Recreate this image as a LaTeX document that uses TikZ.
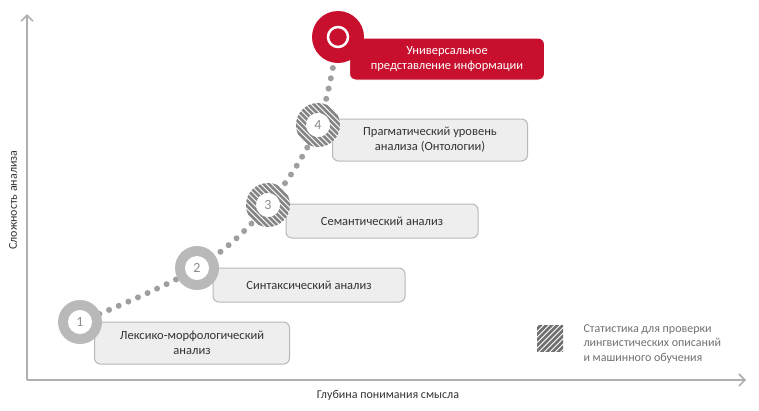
\documentclass[tikz,border=0pt]{standalone}
\usepackage{fontspec}
\setmainfont{Carlito}
\usetikzlibrary{arrows.meta,calc}
\definecolor{rd}{HTML}{C8102E}
\definecolor{ax}{HTML}{B0B0B0}
\definecolor{bx}{HTML}{EEEEEE}
\definecolor{bxl}{HTML}{B8B8B8}
\definecolor{hc}{HTML}{707070}
\definecolor{tx}{HTML}{333333}
\tikzset{
 stagebox/.style={draw=bxl, fill=bx, rounded corners=6pt, line width=1pt, minimum height=#1, align=center, font=\fontsize{12.5}{15}\selectfont, text=tx, inner sep=2pt},
 stagebox/.default=34pt,
 numc/.style={circle, fill=white, minimum size=24pt, inner sep=0, font=\fontsize{14}{14}\selectfont, text=hc!80},
}
\newcommand{\hatchdisk}[2]{%
 \begin{scope}
 \clip #1 circle (#2);
 \fill[white] #1 circle (#2);
 \foreach \k in {-12,...,12} {\draw[hc!85, line width=2.8pt] ($#1+(\k*5.5-30,-30)$) -- ++(60,60);}
 \end{scope}}
\begin{document}
\begin{tikzpicture}[x=1pt,y=-1pt]
\useasboundingbox (0,0) rectangle (759,410);
% axes
\draw[ax, line width=1.6pt, -{Straight Barb[length=6pt]}] (27,380) coordinate (o) -- (27,14) coordinate (ya);
\draw[ax, line width=1.6pt, -{Straight Barb[length=6pt]}] (o) -- (746,380) coordinate (xa);
\node[rotate=90, font=\fontsize{12}{14}\selectfont, text=tx] (yl) at (13,200) {Сложность анализа};
\node[font=\fontsize{12}{14}\selectfont, text=tx] (xl) at (388,395) {Глубина понимания смысла};
% dotted path
\coordinate (c1) at (80,322);
\coordinate (c2) at (197,268);
\coordinate (c3) at (268,205);
\coordinate (c4) at (318,125);
\coordinate (c5) at (338,37);
\draw[gray!75, line width=6pt, line cap=round, dash pattern=on 0pt off 10.5pt] plot[smooth, tension=0.6] coordinates {(c1) (c2) (c3) (c4) (c5)};
% boxes
\node[stagebox, minimum width=195pt, minimum height=42pt] (b1) at (192,343) {Лексико-морфологический\\анализ};
\node[stagebox, minimum width=192pt] (b2) at (309,285) {Синтаксический анализ};
\node[stagebox, minimum width=192pt] (b3) at (382,221) {Семантический анализ};
\node[stagebox, minimum width=195pt, minimum height=42pt] (b4) at (430,140) {Прагматический уровень\\анализа (Онтологии)};
\node[stagebox, draw=white, fill=rd, text=white, minimum width=195pt, minimum height=42pt] (b5) at (447,59) {Универсальное\\представление информации};
% circles
\fill[gray!55] (c1) circle (22);
\node[numc] (n1) at (c1) {1};
\fill[gray!55] (c2) circle (22);
\node[numc] (n2) at (c2) {2};
\hatchdisk{(c3)}{22}
\node[numc] (n3) at (c3) {3};
\hatchdisk{(c4)}{22}
\node[numc] (n4) at (c4) {4};
\fill[rd] (c5) circle (26);
\draw[white, line width=2.5pt] (c5) circle (10);
% legend
\begin{scope}
\clip (537,325) rectangle (563,351);
\foreach \k in {-8,...,8} {\draw[hc, line width=2.6pt] (550+\k*5.5-20,358) -- ++(40,-40);}
\end{scope}
\node[anchor=west, align=left, font=\fontsize{12}{14.5}\selectfont, text=hc] (lg) at (580,344) {Статистика для проверки\\лингвистических описаний\\и машинного обучения};
\end{tikzpicture}
\end{document}
